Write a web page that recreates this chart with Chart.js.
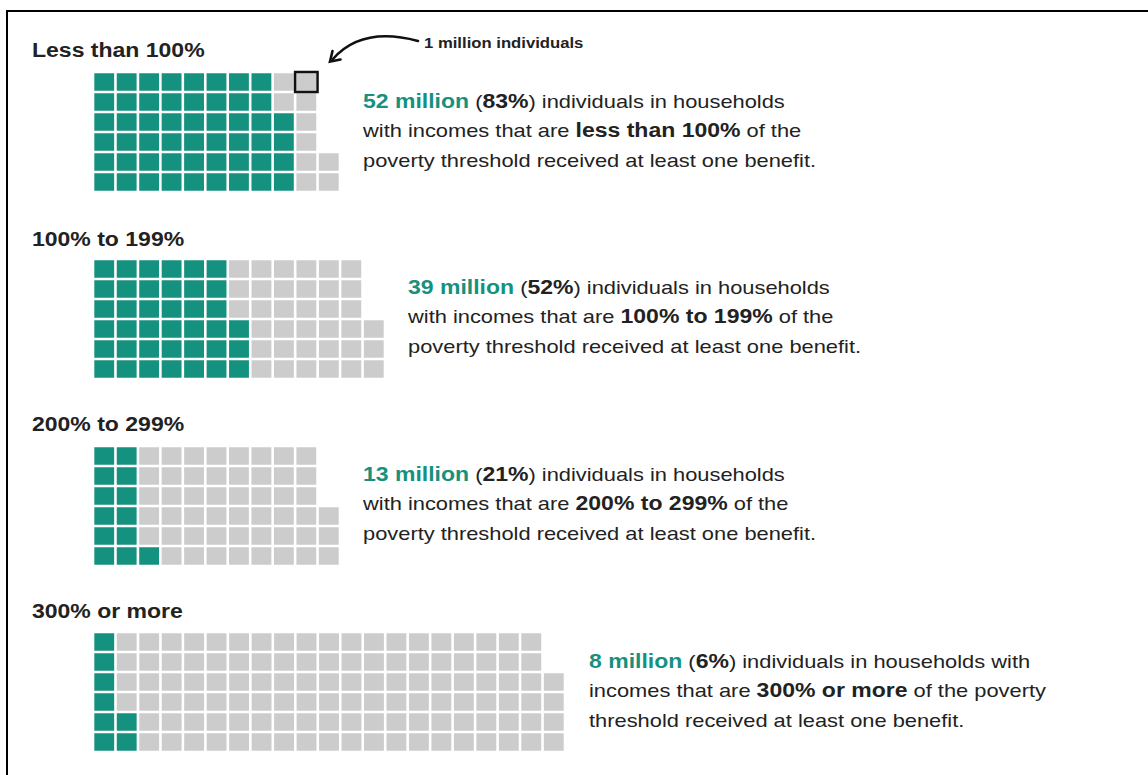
<!DOCTYPE html>
<html>
<head>
<meta charset="utf-8">
<script src="https://cdn.jsdelivr.net/npm/chart.js@4.4.1/dist/chart.umd.min.js"></script>
<style>
  html, body { margin: 0; padding: 0; background: #fff; }
  body {
    width: 1148px; height: 775px; position: relative; overflow: hidden;
    font-family: "Liberation Sans", Arial, Helvetica, sans-serif; color: #222;
  }
  .frame {
    position: absolute; left: 6px; top: 10px; width: 1300px; height: 900px;
    border-left: 2px solid #000; border-top: 2px solid #000;
  }
  .title, .text, .note {
    position: absolute; white-space: nowrap;
    transform: scaleX(1.15); transform-origin: 0 0;
  }
  .title { font-size: 20px; font-weight: bold; line-height: 24px; }
  .text { font-size: 19px; line-height: 29.5px; }
  .text b { font-weight: bold; font-size: 20px; }
  .text .count { color: #17917f; font-weight: bold; font-size: 20px; }
  .note { font-size: 14.5px; font-weight: bold; line-height: 18px; left: 424px; top: 34px; }
  .grid { position: absolute; }
  svg.arrow { position: absolute; left: 0; top: 0; }
</style>
</head>
<body>
<div class="frame"></div>
<div id="page"></div>
<div class="note">1 million individuals</div>
<svg class="arrow" width="1148" height="775">
  <path d="M418 41 Q362 26 333 59" fill="none" stroke="#111" stroke-width="2.6" stroke-linecap="round"/>
  <path d="M332.5 51 L330 61.5 L340.5 59.5" fill="none" stroke="#111" stroke-width="2.6" stroke-linecap="round" stroke-linejoin="miter"/>
</svg>

<script>
// income as share of the poverty threshold
const bands = ['Less than 100%', '100% to 199%', '200% to 299%', '300% or more'];
const bandText = ['less than 100%', '100% to 199%', '200% to 299%', '300% or more'];
// millions of individuals who received at least one benefit
const recipients = [52, 39, 13, 8];
// millions of individuals in each band
const bandTotals = [62, 75, 63, 124];
const sharePct = [83, 52, 21, 6];

const ROWS = 6;
const CELL_W = 22.5;
const CELL_H = 20;
const PAD = 3;
const TEAL = '#14917f';
const GRAY = '#cccccc';

// where each block sits on the page
const placement = [
  { titleTop: 38, gridTop: 72, textLeft: 363, textTop: 86.5, wide: false },
  { titleTop: 227, gridTop: 259, textLeft: 408, textTop: 272.5, wide: false },
  { titleTop: 412, gridTop: 446, textLeft: 363, textTop: 459.5, wide: false },
  { titleTop: 599, gridTop: 632, textLeft: 589, textTop: 646.5, wide: true }
];

// the "1 million individuals" key cell
const keyCell = { block: 0, col: 9, row: 5 };

function textoBloco(i) {
  const head = `<span class="count">${recipients[i]} million</span> (<b>${sharePct[i]}%</b>) individuals in households`;
  const range = `<b>${bandText[i]}</b>`;
  if (placement[i].wide) {
    return `${head} with<br>incomes that are ${range} of the poverty<br>threshold received at least one benefit.`;
  }
  return `${head}<br>with incomes that are ${range} of the<br>poverty threshold received at least one benefit.`;
}

const keyBoxPlugin = {
  id: 'keyBox',
  afterDatasetsDraw(chart) {
    const bar = chart.getDatasetMeta(keyCell.row).data[keyCell.col];
    if (!bar) return;
    const { x, y, base, width } = bar.getProps(['x', 'y', 'base', 'width'], true);
    const ctx = chart.ctx;
    ctx.save();
    ctx.strokeStyle = '#111';
    ctx.lineWidth = 2.5;
    ctx.strokeRect(x - width / 2, y, width, base - y);
    ctx.restore();
  }
};

function gerarWaffle(canvas, filled, total, withKey) {
  const cols = Math.ceil(total / ROWS);
  const labels = Array.from({ length: cols }, (_, c) => c);
  const datasets = [];
  for (let r = 0; r < ROWS; r++) {
    datasets.push({
      data: labels.map(c => (c * ROWS + r < total ? 1 : null)),
      backgroundColor: labels.map(c => (c * ROWS + r < filled ? TEAL : GRAY)),
      borderColor: '#ffffff',
      borderWidth: 1.3,
      borderSkipped: false,
      inflateAmount: 0,
      barPercentage: 1,
      categoryPercentage: 1
    });
  }

  canvas.width = cols * CELL_W + PAD * 2;
  canvas.height = ROWS * CELL_H + PAD * 2;

  new Chart(canvas, {
    type: 'bar',
    data: { labels, datasets },
    options: {
      responsive: false,
      animation: false,
      devicePixelRatio: 1,
      layout: { padding: PAD },
      plugins: { legend: { display: false }, tooltip: { enabled: false } },
      scales: {
        x: { stacked: true, display: false },
        y: { stacked: true, display: false, min: 0, max: ROWS }
      }
    },
    plugins: withKey ? [keyBoxPlugin] : []
  });
}

const page = document.getElementById('page');
bands.forEach((band, i) => {
  const pos = placement[i];

  const title = document.createElement('div');
  title.className = 'title';
  title.style.left = '32px';
  title.style.top = pos.titleTop + 'px';
  title.textContent = band;
  page.appendChild(title);

  const canvas = document.createElement('canvas');
  canvas.className = 'grid';
  canvas.style.left = (93 - PAD) + 'px';
  canvas.style.top = (pos.gridTop - PAD) + 'px';
  page.appendChild(canvas);
  gerarWaffle(canvas, recipients[i], bandTotals[i], keyCell.block === i);

  const text = document.createElement('div');
  text.className = 'text';
  text.style.left = pos.textLeft + 'px';
  text.style.top = pos.textTop + 'px';
  text.innerHTML = textoBloco(i);
  page.appendChild(text);
});
</script>
</body>
</html>
